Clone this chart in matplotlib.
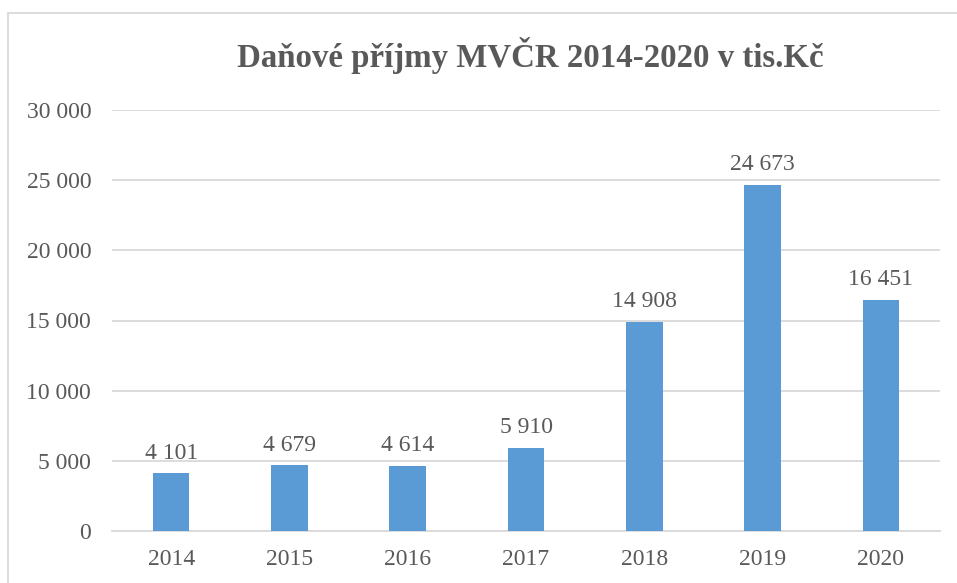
"""
Danove prijmy MVCR 2014-2020 (bar chart)
"""

import numpy as np
import matplotlib
matplotlib.use('Agg')
import matplotlib.pyplot as plt
from matplotlib.patches import Rectangle
from matplotlib.ticker import FuncFormatter


years = ['2014', '2015', '2016', '2017', '2018', '2019', '2020']
prijmy = [4101, 4679, 4614, 5910, 14908, 24673, 16451]
y_ticks = [0, 5000, 10000, 15000, 20000, 25000, 30000]
title = 'Daňové příjmy MVČR 2014-2020 v tis.Kč'

text_col = '#595959'
grid_col = '#D9D9D9'
bar_col = '#5B9BD5'

plt.rcParams['font.family'] = ['Liberation Serif', 'DejaVu Serif']


def fmt(v, pos=None):
    return '{:,.0f}'.format(v).replace(',', ' ')


fig = plt.figure(figsize=(9.57, 5.83), dpi=100)

# chart frame (runs past right and bottom edge like the reference crop)
fig.patches.append(Rectangle((8 / 957, -0.05), 1.2, 1 - 13 / 583 + 0.05,
                             transform=fig.transFigure, fill=False,
                             edgecolor=grid_col, linewidth=1.3))

ax = fig.add_axes([112 / 957, 52 / 583, 828 / 957, 421 / 583])

x = np.arange(len(years))
bars = ax.bar(x, prijmy, width=0.31, color=bar_col, zorder=3)

for b, v in zip(bars, prijmy):
    ax.text(b.get_x() + b.get_width() / 2, v + 700, fmt(v),
            ha='center', va='bottom', fontsize=17, color=text_col)

ax.set_xlim(-0.5, len(years) - 0.5)
ax.set_ylim(0, 30000)
ax.set_yticks(y_ticks)
ax.yaxis.set_major_formatter(FuncFormatter(fmt))
ax.set_xticks(x)
ax.set_xticklabels(years)

ax.grid(axis='y', color=grid_col, linewidth=1.3, zorder=0)
for s in ['top', 'right', 'left']:
    ax.spines[s].set_visible(False)
ax.spines['bottom'].set_color(grid_col)
ax.spines['bottom'].set_linewidth(1.3)
ax.tick_params(axis='both', length=0, labelsize=17, colors=text_col)
ax.tick_params(axis='y', pad=15)
ax.tick_params(axis='x', pad=13)

fig.text(530 / 957, 1 - 56 / 583, title, ha='center', va='center',
         fontsize=23.7, fontweight='bold', color=text_col)

plt.savefig('out.png', dpi=100)
